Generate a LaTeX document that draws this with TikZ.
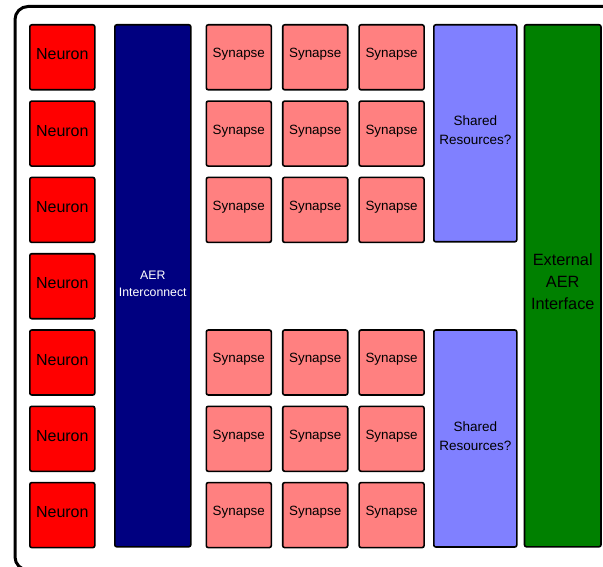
\documentclass[tikz,border=0pt]{standalone}
\usepackage{fontspec}
\setmainfont{Liberation Sans}
\definecolor{neuronred}{RGB}{255,0,0}
\definecolor{synpink}{RGB}{255,128,128}
\definecolor{aernavy}{RGB}{0,0,128}
\definecolor{sharedblue}{RGB}{128,128,255}
\definecolor{extgreen}{RGB}{0,128,0}
\begin{document}
\begin{tikzpicture}[x=1pt,y=-1pt,
  block/.style={draw=black, line width=1.6pt, rounded corners=2pt, inner sep=0pt,
    anchor=north west},
  caption/.style={align=center, inner sep=0pt, yshift=2.8pt},
  neuron/.style={block, fill=neuronred, minimum width=65pt, minimum height=65pt},
  synapse/.style={block, fill=synpink, minimum width=65pt, minimum height=65pt},
  shared/.style={block, fill=sharedblue, minimum width=83pt, minimum height=217pt},
  frame/.style={draw=black, line width=3pt, rounded corners=13pt}]
\useasboundingbox (0,0) rectangle (603,567);
\clip (0,0) rectangle (603,567);
% outer enclosure, running past the right and bottom edges
\draw[frame] (15,6.5) rectangle (640,570);
% neuron column
\foreach \r in {1,...,7} {
  \node[neuron] (n\r) at (29,{24+76.3*(\r-1)}) {};
  \node[caption, font=\fontsize{16}{19}\selectfont] at (n\r.center) {Neuron};
}
% AER interconnect bus
\node[block, fill=aernavy, minimum width=76pt, minimum height=522pt] (aer) at (114,24) {};
\node[caption, text=white, font=\fontsize{12.3}{17}\selectfont, yshift=-0.5pt]
  at (aer.center) {AER\\Interconnect};
% synapse arrays, upper and lower
\foreach \r in {1,2,3,5,6,7} {
  \foreach \c in {1,2,3} {
    \node[synapse] (s\r\c) at ({205.5+76.4*(\c-1)},{24+76.3*(\r-1)}) {};
    \node[caption, font=\fontsize{13.4}{16}\selectfont] at (s\r\c.center) {Synapse};
  }
}
% shared resources
\node[shared] (sh1) at (433,24) {};
\node[shared] (sh2) at (433,329.2) {};
\foreach \s in {sh1,sh2}
  \node[caption, font=\fontsize{13.5}{19}\selectfont] at (\s.center) {Shared\\Resources?};
% external interface
\node[block, fill=extgreen, minimum width=76.5pt, minimum height=522pt] (ext) at (523.7,24) {};
\node[caption, font=\fontsize{16.3}{22}\selectfont, yshift=1pt]
  at (ext.center) {External\\AER\\Interface};
\end{tikzpicture}
\end{document}
